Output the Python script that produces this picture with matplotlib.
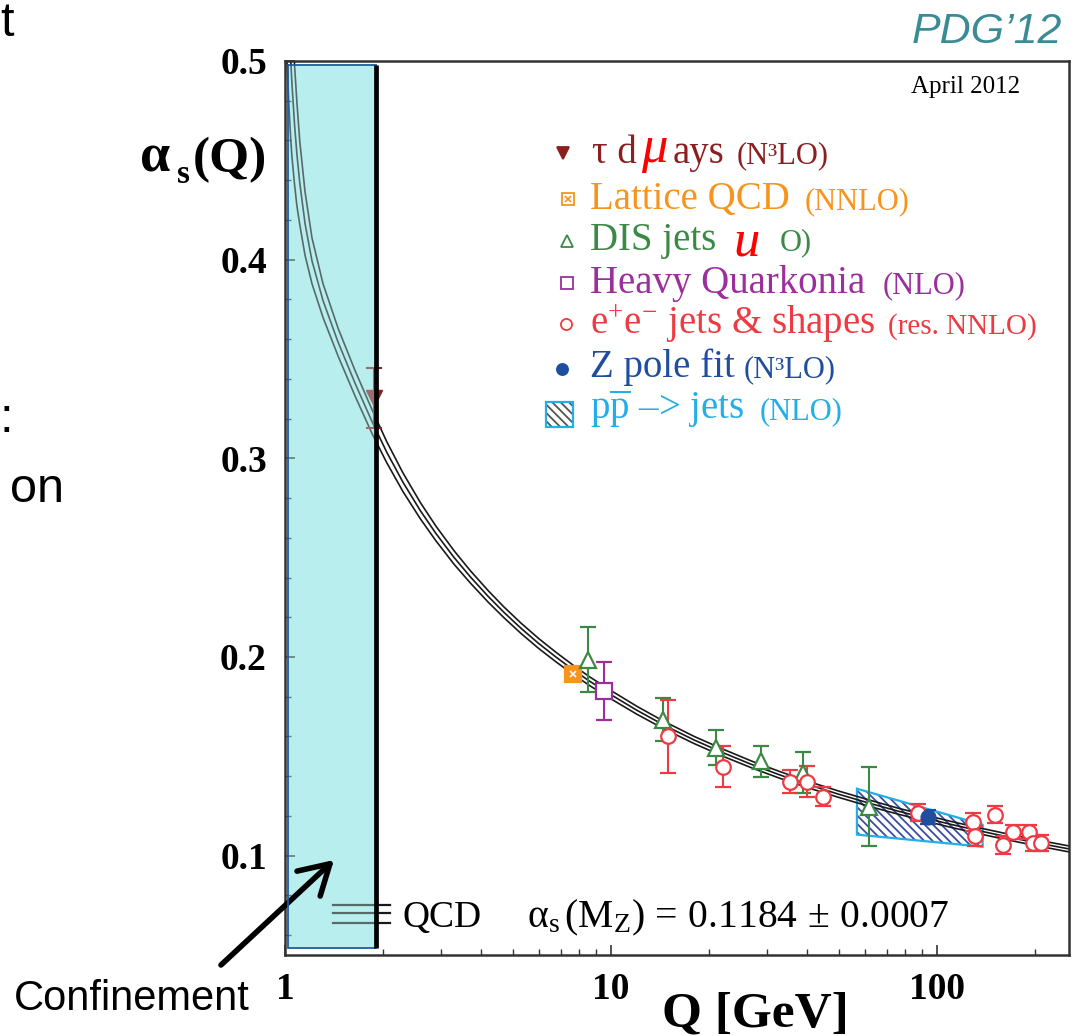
import matplotlib
matplotlib.use("Agg")
import matplotlib.pyplot as plt
from matplotlib.patches import Rectangle, Polygon
from matplotlib.lines import Line2D
from matplotlib.ticker import LogLocator, MultipleLocator, NullFormatter

plt.rcParams['font.family'] = ['Liberation Serif', 'DejaVu Serif']
plt.rcParams['mathtext.fontset'] = 'custom'
plt.rcParams['mathtext.rm'] = 'Liberation Serif'
plt.rcParams['mathtext.it'] = 'Liberation Serif:italic'
plt.rcParams['mathtext.bf'] = 'Liberation Serif:bold'
plt.rcParams['hatch.linewidth'] = 1.3

# ---------------- data ----------------
curve_Q = [1.01, 1.02, 1.03, 1.04, 1.05, 1.07, 1.088, 1.11, 1.152, 1.21, 1.308, 1.454,
           1.64, 1.85, 2.05, 2.3, 2.6, 2.9, 3.3, 3.7, 4.2, 4.7, 5.3, 6.0, 6.8, 7.65,
           8.6, 10.0, 12.0, 14.5, 18.0, 22.0, 27.0, 33.0, 40.0, 50.0, 62.0, 76.0,
           91.2, 110.0, 135.0, 165.0, 200.0, 254.0]
curve_alpha = [0.555, 0.535, 0.517, 0.502, 0.489, 0.4677, 0.4529, 0.4386, 0.4182,
               0.3994, 0.3794, 0.3586, 0.3378, 0.3184, 0.3032, 0.288, 0.2737, 0.2623,
               0.2501, 0.2404, 0.2305, 0.2224, 0.2144, 0.2068, 0.1998, 0.1936, 0.1878,
               0.1810, 0.1732, 0.1658, 0.1582, 0.1519, 0.1459, 0.1406, 0.1359, 0.1309,
               0.1264, 0.1224, 0.1191, 0.1158, 0.1125, 0.1094, 0.1066, 0.1034]
curve_halfwidth = [0.048, 0.045, 0.042, 0.040, 0.037, 0.030, 0.026, 0.021, 0.016,
                   0.0115, 0.0085, 0.007, 0.0064, 0.006, 0.0053, 0.0047, 0.0041,
                   0.0037, 0.0034, 0.0031, 0.0029, 0.0027, 0.0026, 0.0025, 0.0024,
                   0.0023, 0.0022, 0.0021, 0.0020, 0.0019, 0.0018, 0.0018, 0.0017,
                   0.0017, 0.0016, 0.0016, 0.0016, 0.0015, 0.0015, 0.0015, 0.0015,
                   0.0015, 0.0015, 0.0015]

tau_Q = [1.88]
tau_alpha = [0.3305]
tau_err = [0.015]

lat_Q = [7.65]
lat_alpha = [0.1912]
lat_err = [0.0012]

dis_Q = [8.50, 14.44, 21.0, 28.86, 38.8, 61.9]
dis_alpha = [0.1987, 0.1685, 0.1544, 0.1474, 0.1418, 0.1247]
dis_err = [0.0165, 0.011, 0.009, 0.0078, 0.0104, 0.020]

hq_Q = [9.52]
hq_alpha = [0.1831]
hq_err = [0.0146]

ee_Q = [14.96, 22.06, 35.4, 39.9, 44.7, 87.4, 128.9, 130.8, 150.6, 159.4, 171.0,
        191.5, 196.9, 208.4]
ee_alpha = [0.160, 0.1448, 0.1373, 0.1373, 0.1297, 0.1217, 0.117, 0.110, 0.1207,
            0.1055, 0.1121, 0.1121, 0.1066, 0.1066]
ee_err = [0.0184, 0.0103, 0.006, 0.008, 0.0048, 0.0043, 0.0047, 0.005, 0.0045,
          0.0045, 0.0035, 0.0035, 0.004, 0.004]

z_Q = [94.0]
z_alpha = [0.1196]
z_err = [0.0035]

pp_Q = [56.8, 138.0]
pp_upper = [0.1337, 0.1156]
pp_lower = [0.1106, 0.1045]

y_ticks = [0.1, 0.2, 0.3, 0.4, 0.5]
y_ticklabels = ['0.1', '0.2', '0.3', '0.4', '0.5']
x_ticks = [1, 10, 100]
x_ticklabels = ['1', '10', '100']

legend_main = ['\u03c4 d', 'Lattice QCD', 'DIS jets', 'Heavy Quarkonia',
               'e$^{+}$e$^{-}$ jets & shapes', 'Z pole fit',
               'p$\\overline{\\rm p}$ \u2013> jets']
legend_small = ['(N\u00b3LO)', '(NNLO)', 'O)', '(NLO)', '(res. NNLO)', '(N\u00b3LO)', '(NLO)']

# ---------------- colours ----------------
c_tau = '#8b1f1f'
c_lat = '#f7941d'
c_dis = '#3a8a45'
c_hq = '#9b2f9b'
c_ee = '#ee3a43'
c_z = '#1f4e9e'
c_pp = '#22aee8'
c_hatch = '#3d4da0'
c_cyan = '#b9eeee'

W, H = 1078, 1036
fig = plt.figure(figsize=(W / 100, H / 100), dpi=100)
ax = fig.add_axes([285 / W, 1 - 955 / H, 784 / W, 894 / H])


def fx(px):
    return px / W


def fy(py):
    return 1 - py / H


def T(px, py, s, **kw):
    kw.setdefault('va', 'baseline')
    return fig.text(fx(px), fy(py), s, **kw)


ax.set_xscale('log')
ax.set_xlim(1, 254)
ax.set_ylim(0.05, 0.5)

# confinement box (base, under curves)
CONF_Q0, CONF_Q1 = 1.02, 1.90
CONF_A0, CONF_A1 = 0.0535, 0.498
ax.add_patch(Rectangle((CONF_Q0, CONF_A0), CONF_Q1 - CONF_Q0, CONF_A1 - CONF_A0,
                       facecolor=c_cyan, edgecolor='none', zorder=0.5))

# pp -> jets band
verts = [(pp_Q[0], pp_upper[0]), (pp_Q[1], pp_upper[1]),
         (pp_Q[1], pp_lower[1]), (pp_Q[0], pp_lower[0])]
ax.add_patch(Polygon(verts, closed=True, facecolor='none', edgecolor=c_hatch,
                     hatch='\\\\\\\\', lw=0, zorder=1.7))
ax.add_patch(Polygon(verts, closed=True, fill=False, edgecolor=c_pp, lw=1.6, zorder=1.8))

# QCD curves
up = [a + d for a, d in zip(curve_alpha, curve_halfwidth)]
lo = [a - d for a, d in zip(curve_alpha, curve_halfwidth)]
for ys in (up, curve_alpha, lo):
    ax.plot(curve_Q, ys, color='#1a1a1a', lw=1.2, zorder=2)

# tau point (under the box tint)
ax.errorbar(tau_Q, tau_alpha, yerr=tau_err, fmt='v', ms=11, color=c_tau, mec=c_tau,
            ecolor=c_tau, capsize=5.5, capthick=1.5, elinewidth=1.5, zorder=2.5)

# QCD legend lines (bottom)
for ya in (0.0559, 0.047, 0.0358):
    ax.plot([0.0612, 0.134], [ya, ya], transform=ax.transAxes, color='#1a1a1a',
            lw=1.6, zorder=2)

# tint overlay + edge + black line
ax.add_patch(Rectangle((CONF_Q0, CONF_A0), CONF_Q1 - CONF_Q0, CONF_A1 - CONF_A0,
                       facecolor=c_cyan, edgecolor='none', alpha=0.38, zorder=3))
ax.add_patch(Rectangle((CONF_Q0, CONF_A0), CONF_Q1 - CONF_Q0, CONF_A1 - CONF_A0,
                       fill=False, edgecolor='#1d5d9b', lw=1.3, zorder=3.1))
ax.plot([CONF_Q1, CONF_Q1], [CONF_A0, CONF_A1], color='black', lw=3.4,
        solid_capstyle='butt', zorder=4)

# data points
eb = dict(capsize=5.5, capthick=1.5, elinewidth=1.5, mew=1.6, zorder=5)
ax.errorbar(lat_Q, lat_alpha, yerr=lat_err, fmt='s', ms=11, color=c_lat, mfc=c_lat,
            mec=c_lat, ecolor=c_lat, **eb)
ax.plot(lat_Q, lat_alpha, 'x', ms=5, color='white', mew=1.2, zorder=6)
ax.errorbar(dis_Q, dis_alpha, yerr=dis_err, fmt='^', ms=11, mfc='white', mec=c_dis,
            ecolor=c_dis, **eb)
ax.errorbar(hq_Q, hq_alpha, yerr=hq_err, fmt='s', ms=11, mfc='white', mec=c_hq,
            ecolor=c_hq, **eb)
ax.errorbar(ee_Q, ee_alpha, yerr=ee_err, fmt='o', ms=10.5, mfc='white', mec=c_ee,
            ecolor=c_ee, **eb)
ax.errorbar(z_Q, z_alpha, yerr=z_err, fmt='o', ms=10, color=c_z, mfc=c_z, mec=c_z,
            ecolor=c_z, **eb)

# axes styling
for sp in ax.spines.values():
    sp.set_linewidth(1.8)
    sp.set_color('#333333')
ax.set_yticks(y_ticks, labels=y_ticklabels)
ax.yaxis.set_minor_locator(MultipleLocator(0.02))
ax.set_xticks(x_ticks, labels=x_ticklabels)
ax.xaxis.set_minor_locator(LogLocator(base=10, subs=[2, 3, 4, 5, 6, 7, 8, 9]))
ax.xaxis.set_minor_formatter(NullFormatter())
ax.tick_params(which='major', direction='in', length=7, width=1.2, color='#333333')
ax.tick_params(which='minor', direction='in', length=4, width=1.0, color='#333333')
ax.tick_params(axis='y', which='major', pad=13)
ax.tick_params(axis='x', which='major', pad=12)
for lbl in ax.get_xticklabels() + ax.get_yticklabels():
    lbl.set_fontsize(27)
    lbl.set_fontweight('bold')
    lbl.set_fontfamily('Liberation Serif')

# axis labels
T(140, 172, '\u03b1', size=39, weight='bold')
T(177, 183, 's', size=24, weight='bold')
T(193, 172, '(Q)', size=37, weight='bold')
T(755, 1027, 'Q [GeV]', size=37, weight='bold', ha='center')

# texts in plot
T(966, 93, 'April 2012', size=18, ha='center')
T(1062, 43, 'PDG\u201912', size=31, style='italic', family='Liberation Sans',
  color='#3a8c94', ha='right')
T(402, 927, 'QCD', size=27)
T(527, 927, r'$\mathrm{\alpha}_{\rm s}\,({\rm M}_{\rm Z})\,=\,0.1184\,\pm\,0.0007$',
  size=28.5)

# legend
baselines = [163, 209, 250, 293, 334, 377, 419]
colors = [c_tau, c_lat, c_dis, c_hq, c_ee, c_z, c_pp]
small_x = [737, 805, 780, 883, 888, 744, 760]
small_size = [22, 22, 22, 22, 21, 22, 22]
for i in range(7):
    T(590 if i else 592, baselines[i], legend_main[i], size=28, color=colors[i])
    T(small_x[i], baselines[i], legend_small[i], size=small_size[i], color=colors[i])
T(673, 163, 'ays', size=28, color=c_tau)
T(641, 162, '\u03bc', size=38, style='italic', color='red')
T(733, 255, 'u', size=38, style='italic', color='red')

mk = [(563, 153, 'v', c_tau, c_tau), (568, 199, 's', 'white', c_lat),
      (567, 241, '^', 'white', c_dis), (567, 283, 's', 'white', c_hq),
      (566, 324, 'o', 'white', c_ee), (562, 369, 'o', c_z, c_z)]
for (px, py, m, fc, ec) in mk:
    fig.add_artist(Line2D([fx(px)], [fy(py)], transform=fig.transFigure, marker=m,
                          ms=8, mfc=fc, mec=ec, mew=1.3, ls='none'))
fig.add_artist(Line2D([fx(568)], [fy(199)], transform=fig.transFigure, marker='x',
                      ms=5, mec=c_lat, mew=1.2, ls='none'))
fig.add_artist(Rectangle((fx(546), fy(427)), 27 / W, 25 / H, transform=fig.transFigure,
                         facecolor='white', edgecolor='#555555', hatch='\\\\\\\\', lw=0))
fig.add_artist(Rectangle((fx(546), fy(427)), 27 / W, 25 / H, transform=fig.transFigure,
                         fill=False, edgecolor=c_pp, lw=1.6))

# slide texts outside the plot
T(14, 1010, 'Confinement', size=30, family='Liberation Sans')
T(0, 432, ':', size=35, family='Liberation Sans')
T(10, 502, 'on', size=35, family='Liberation Sans')
T(0, 36, 't', size=35, family='Liberation Sans')
ax.annotate('', xy=(fx(334), fy(860)), xytext=(fx(221), fy(965)),
            xycoords='figure fraction', textcoords='figure fraction',
            arrowprops=dict(arrowstyle='->,head_length=0.6,head_width=0.35', lw=4,
                            color='black', mutation_scale=35, shrinkA=0, shrinkB=0),
            annotation_clip=False)

fig.savefig('out.png', dpi=100)
